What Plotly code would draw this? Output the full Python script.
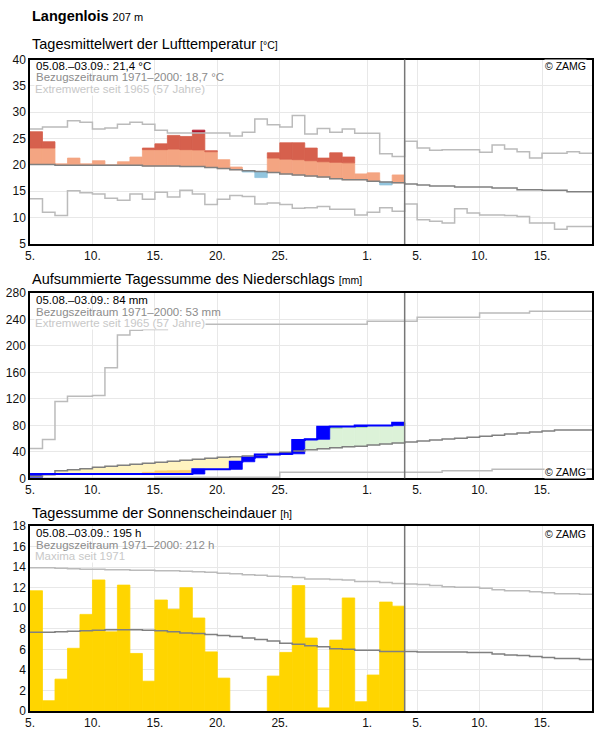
import numpy as np
import plotly.graph_objects as go

# ---------------- data ----------------
# day index 0 = 5 August ... 44 = 18 September; observations for 30 days (05.08.-03.09.)
tick_days = [0, 5, 10, 15, 20, 27, 31, 36, 41]
tick_labels = ["5.", "10.", "15.", "20.", "25.", "1.", "5.", "10.", "15."]
n_days = 45
n_obs = 30

# Temperature (daily mean, °C)
temp_obs = [26.3, 24.4, 20.2, 21.3, 20.2, 20.8, 20.0, 20.6, 21.5, 23.2,
            24.0, 25.6, 25.4, 26.6, 22.7, 21.0, 19.6, 18.65, 17.6, 22.3,
            24.2, 24.2, 23.2, 21.3, 22.3, 21.5, 18.3, 18.5, 16.2, 18.1]
temp_clim = [20.1, 20.1, 19.95, 19.95, 19.95, 19.95, 19.95, 19.95, 19.95, 19.8,
             19.8, 19.8, 19.7, 19.7, 19.5, 19.3, 19.1, 18.9, 18.75, 18.55,
             18.3, 18.1, 17.9, 17.7, 17.4, 17.2, 17.2, 16.9, 16.75, 16.6,
             16.4, 16.2, 16.0, 16.0, 15.8, 15.8, 15.8, 15.6, 15.6, 15.3,
             15.3, 15.2, 15.2, 14.9, 14.9]
temp_upper = [23.2, 23.2, 23.1, 23.1, 23.1, 23.0, 23.0, 23.0, 23.0, 22.9,
              22.9, 23.0, 22.9, 22.85, 22.5, 22.3, 22.0, 21.8, 21.6, 21.3,
              21.1, 21.0, 20.8, 20.6, 20.5, 20.4, 20.2, 20.0, 19.8, 19.6]
temp_max = [26.8, 27.2, 27.2, 28.4, 28.1, 26.8, 27.0, 27.7, 28.1, 27.7,
            26.6, 26.05, 26.05, 26.05, 26.05, 26.05, 25.5, 26.2, 28.7, 27.6,
            27.2, 29.4, 25.85, 26.9, 26.2, 26.8, 26.0, 26.0, 22.1, 21.6,
            24.5, 23.2, 22.8, 22.9, 22.9, 22.9, 22.4, 23.8, 23.0, 22.5,
            21.3, 22.2, 22.2, 22.5, 22.2]
temp_min = [13.6, 11.0, 10.4, 15.1, 14.7, 14.5, 13.7, 13.3, 14.5, 13.5,
            14.8, 13.9, 15.2, 14.5, 12.5, 13.5, 14.2, 14.0, 12.6, 12.8,
            12.5, 11.8, 11.9, 12.1, 11.6, 11.6, 10.5, 11.0, 11.9, 11.2,
            12.6, 9.6, 9.3, 9.0, 11.7, 10.9, 10.5, 10.5, 10.4, 10.2,
            9.0, 9.0, 7.8, 8.3, 8.3]

# Precipitation (daily sums, mm) and cumulative reference curves
precip_daily = [6.5, 0, 0, 0, 0, 0, 0, 0, 0, 0,
                0, 0, 0, 7.0, 0, 0, 11.5, 6.0, 5.0, 0,
                1.0, 21.0, 1.0, 19.0, 0.2, 0, 1.4, 0, 0, 4.4]
precip_clim = [3.0, 5.5, 11.5, 13.0, 14.6, 16.6, 18.1, 19.6, 21.1, 22.6,
               24.1, 25.6, 27.2, 28.7, 30.2, 31.7, 32.7, 33.7, 35.2, 37.5,
               39.5, 41.3, 43.2, 44.5, 46.0, 47.6, 48.6, 50.2, 51.7, 53.2,
               54.7, 56.2, 57.7, 59.2, 60.7, 62.2, 63.7, 65.2, 66.8, 68.3,
               69.8, 71.3, 72.8, 72.8, 72.8]
precip_lower = [0.0, 1.0, 2.0, 3.0, 4.0, 5.0, 6.0, 6.3, 6.4, 9.0,
                11.2, 11.5, 11.8, 12.5, 12.8, 13.2, 13.6, 14.5, 15.5, 16.5,
                17.5, 18.5, 19.5, 20.5, 21.5, 22.5, 23.5, 24.5, 25.5, 26.5]
precip_upper = [8.0, 10.0, 18.0, 20.0, 22.0, 24.0, 26.0, 28.0, 30.0, 32.0,
                34.0, 36.0, 38.0, 40.0, 42.0, 44.0, 46.0, 48.0, 50.0, 52.0,
                54.0, 56.0, 60.0, 74.0, 75.5, 79.0, 77.0, 81.0, 82.0, 86.0]
precip_max = [45.0, 58.8, 116.0, 124.0, 124.0, 125.0, 167.0, 216.7, 223.8, 225.0,
              225.0, 232.8, 232.8, 232.8, 232.8, 232.8, 232.8, 232.8, 232.8, 232.8,
              232.8, 232.8, 232.8, 232.8, 232.8, 232.8, 232.8, 237.3, 237.3, 237.3,
              237.3, 243.3, 243.3, 243.3, 243.3, 243.3, 249.9, 249.9, 249.9, 249.9,
              252.4, 252.4, 252.4, 252.4, 252.4]
precip_min = [0, 0, 0, 0, 0, 0, 0, 0, 0, 0,
              1.5, 1.5, 1.5, 1.5, 1.5, 1.5, 1.5, 1.5, 1.5, 1.5,
              9.0, 9.0, 9.0, 9.0, 9.0, 9.0, 9.0, 9.0, 9.0, 9.0,
              9.0, 9.0, 9.0, 11.5, 11.5, 11.5, 11.5, 13.6, 13.6, 13.6,
              13.6, 13.6, 13.6, 13.6, 13.6]

# Sunshine duration (h)
sun_obs = [11.7, 1.0, 3.1, 6.1, 9.4, 12.75, 7.7, 12.25, 5.6, 2.9,
           10.8, 9.9, 12.0, 9.05, 5.75, 3.2, 0, 0, 0, 3.4,
           5.7, 12.2, 7.1, 0.3, 6.9, 11.0, 0.9, 3.5, 10.6, 10.2]
sun_clim = [7.65, 7.65, 7.7, 7.75, 7.8, 7.85, 7.9, 7.9, 7.9, 7.85,
            7.8, 7.7, 7.6, 7.55, 7.45, 7.35, 7.25, 7.1, 6.95, 6.8,
            6.6, 6.5, 6.35, 6.25, 6.05, 6.0, 5.9, 5.9, 5.8, 5.8,
            5.8, 5.75, 5.75, 5.75, 5.75, 5.7, 5.7, 5.55, 5.45, 5.4,
            5.3, 5.2, 5.1, 5.1, 5.0]
sun_max = [13.95, 13.95, 13.9, 13.85, 13.8, 13.8, 13.75, 13.75, 13.7, 13.7,
           13.65, 13.65, 13.6, 13.55, 13.5, 13.4, 13.35, 13.25, 13.2, 13.1,
           13.05, 13.0, 12.85, 12.85, 12.8, 12.75, 12.6, 12.6, 12.5, 12.4,
           12.35, 12.3, 12.2, 12.1, 12.05, 12.05, 11.95, 11.8, 11.7, 11.7,
           11.6, 11.5, 11.4, 11.4, 11.35]

# ---------------- layout helpers ----------------
W, H = 596, 729
ML, MR, MT, MB = 30, 4, 59, 18
PW = W - ML - MR
PH = H - MT - MB
FONT = "Liberation Sans, Arial, sans-serif"


def px_x(px):
    return (px - ML) / PW


def px_y(py):
    return (H - MB - py) / PH


panels = [  # (top px, bottom px, y range, dtick)
    (59.5, 244.0, [5, 40], 5),
    (293.0, 478.3, [0, 280], 40),
    (526.0, 711.0, [0, 18], 2),
]

traces = []


def bars(ax, xs, bases, tops, color):
    xx, bb, hh = [], [], []
    for x, b, t in zip(xs, bases, tops):
        if t - b > 1e-9:
            xx.append(x + 0.5)
            bb.append(b)
            hh.append(t - b)
    traces.append(go.Bar(x=xx, base=bb, y=hh, width=1,
                         marker=dict(color=color, line=dict(width=0.8, color=color)),
                         xaxis="x" + ax, yaxis="y" + ax,
                         hoverinfo="skip", showlegend=False))


def step(ax, vals, color, width):
    x = list(range(len(vals) + 1))
    y = list(vals) + [vals[-1]]
    traces.append(go.Scatter(x=x, y=y, mode="lines",
                             line=dict(color=color, width=width, shape="hv"),
                             xaxis="x" + ax, yaxis="y" + ax,
                             hoverinfo="skip", showlegend=False))


obs_x = list(range(n_obs))

# ---- panel 1: temperature ----
step("", temp_max, "#bbbbbb", 1.5)
step("", temp_min, "#bbbbbb", 1.5)
t = np.array(temp_obs)
c = np.array(temp_clim[:n_obs])
u = np.array(temp_upper)
m = np.array(temp_max[:n_obs])
bars("", obs_x, c, np.where(t > c, np.minimum(t, u), c), "#f4a582")
bars("", obs_x, u, np.where(t > u, np.minimum(t, m), u), "#d6604d")
bars("", obs_x, m, np.where(t > m, t, m), "#b2182b")
bars("", obs_x, t, np.where(t < c, c, t), "#92c5de")
step("", temp_clim, "#808080", 1.5)

# ---- panel 2: precipitation ----
cum = np.cumsum(precip_daily)
prev = np.concatenate([[0.0], cum[:-1]])
pc = np.array(precip_clim[:n_obs])
pu = np.array(precip_upper)
pl = np.array(precip_lower)
bars("2", obs_x, pc, np.where(cum > pc, np.minimum(cum, pu), pc), "#dcf2d8")
bars("2", obs_x, pu, np.where((cum > pu) & (pu > pc), cum, pu), "#a6dba0")
bars("2", obs_x, np.maximum(cum, pl), np.where(cum < pc, pc, np.maximum(cum, pl)), "#fff4c0")
bars("2", obs_x, cum, np.where(cum < pl, np.minimum(pl, pc), cum), "#fdcb6e")
step("2", precip_max, "#bbbbbb", 1.5)
step("2", precip_min, "#bbbbbb", 1.5)
step("2", precip_clim, "#808080", 1.5)
bars("2", obs_x, prev, cum, "#0000ff")
step("2", list(cum), "#0000ff", 2)

# ---- panel 3: sunshine ----
bars("3", obs_x, [0] * n_obs, sun_obs, "#ffd500")
step("3", sun_max, "#bbbbbb", 1.5)
step("3", sun_clim, "#808080", 1.5)

fig = go.Figure(traces)

layout = dict(width=W, height=H, margin=dict(l=ML, r=MR, t=MT, b=MB, autoexpand=False),
              paper_bgcolor="white", plot_bgcolor="white",
              barmode="overlay", showlegend=False,
              font=dict(family=FONT, size=12, color="#111"))
shapes = []
for i, (top, bot, rng, dt) in enumerate(panels):
    sfx = "" if i == 0 else str(i + 1)
    layout["xaxis" + sfx] = dict(domain=[0, 1], range=[0, n_days], anchor="y" + sfx,
                                 tickmode="array", tickvals=tick_days, ticktext=tick_labels,
                                 showgrid=True, gridcolor="#e8e8e8", gridwidth=1,
                                 showline=True, mirror=True, linecolor="black", linewidth=1.5,
                                 ticks="", zeroline=False, fixedrange=True, automargin=False,
                                 tickfont=dict(size=12, color="#111"))
    layout["yaxis" + sfx] = dict(domain=[px_y(bot), px_y(top)], range=rng, dtick=dt, tick0=0,
                                 anchor="x" + sfx,
                                 showgrid=True, gridcolor="#e8e8e8", gridwidth=1,
                                 showline=True, mirror=True, linecolor="black", linewidth=1.5,
                                 ticks="", zeroline=False, fixedrange=True, automargin=False,
                                 tickfont=dict(size=12, color="#111"))
    shapes.append(dict(type="line", xref="x" + sfx, yref="y" + sfx + " domain",
                       x0=n_obs, x1=n_obs, y0=0, y1=1,
                       line=dict(color="#777777", width=1.5), layer="above"))
layout["shapes"] = shapes

ann = []


def text(px, py, s, size, color="#000", anchor="left", bg=None):
    d = dict(x=px_x(px), y=px_y(py), xref="paper", yref="paper", text=s,
             showarrow=False, xanchor=anchor, yanchor="middle",
             font=dict(family=FONT, size=size, color=color))
    if bg:
        d["bgcolor"] = bg
        d["borderpad"] = 0
    ann.append(d)


text(30, 16, "<b>Langenlois</b> <span style='font-size:11px'>207 m</span>", 14.5)
titles = [("Tagesmittelwert der Lufttemperatur", "[°C]", 44.5),
          ("Aufsummierte Tagessumme des Niederschlags", "[mm]", 279),
          ("Tagessumme der Sonnenscheindauer", "[h]", 512.5)]
for ttl, unit, y in titles:
    text(30, y, f"{ttl} <span style='font-size:10.5px'>{unit}</span>", 14.5)

info = [
    ("05.08.–03.09.: 21,4 °C", "Bezugszeitraum 1971–2000: 18,7 °C", "Extremwerte seit 1965 (57 Jahre)", 65.5),
    ("05.08.–03.09.: 84 mm", "Bezugszeitraum 1971–2000: 53 mm", "Extremwerte seit 1965 (57 Jahre)", 300.0),
    ("05.08.–03.09.: 195 h", "Bezugszeitraum 1971–2000: 212 h", "Maxima seit 1971", 533.0),
]
for l1, l2, l3, y in info:
    # lowest line first so the upper lines (and their descenders) stay on top
    text(34, y + 23, l3, 11.5, "#c8c8c8", bg="white")
    text(34, y + 11.5, l2, 11.5, "#8c8c8c")
    text(34, y, l1, 11.5, "#000")

for y in (66, 472, 533.5):
    text(587, y, "© ZAMG", 10.5, "#000", anchor="right", bg="white")

layout["annotations"] = ann
fig.update_layout(**layout)
fig.write_html("out.html")
